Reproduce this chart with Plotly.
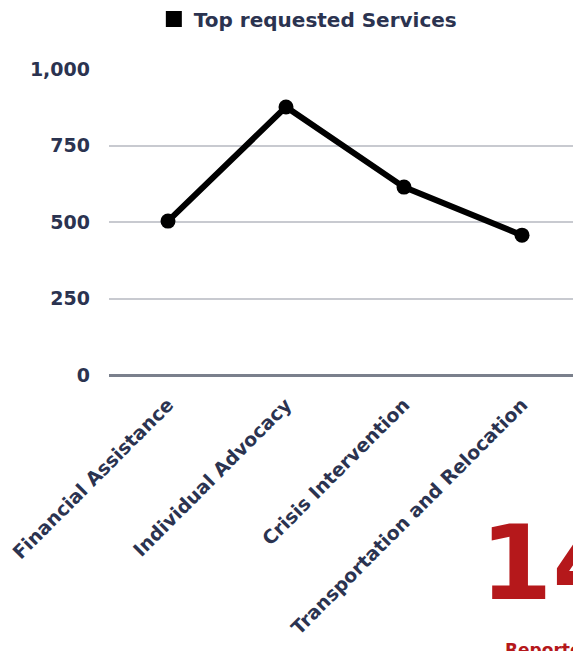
import plotly.graph_objects as go

categories = ["Financial Assistance", "Individual Advocacy", "Crisis Intervention", "Transportation and Relocation"]
values = [503, 876, 614, 457]
series_name = "Top requested Services"
y_ticks = [0, 250, 500, 750, 1000]
y_tick_labels = ["0", "250", "500", "750", "1,000"]

FONT = "DejaVu Sans"
NAVY = "#2b3350"
RED = "#b5181b"

# page body has an 8px margin, so figure coordinates = window coordinates - 8
W, H = 573, 643
L, T = 101, 61
PLOT_R = 573   # window 581 -> figure 573
PLOT_B = 367   # window 375 -> figure 367

fig = go.Figure()
fig.add_trace(go.Scatter(
    x=categories, y=values, mode="lines+markers",
    line=dict(color="#000000", width=6),
    marker=dict(color="#000000", size=15),
    showlegend=False,
))
fig.add_trace(go.Scatter(
    x=[None], y=[None], mode="markers", name=series_name,
    marker=dict(color="#000000", size=16, symbol="square"),
))

fig.update_layout(
    width=W, height=H,
    margin=dict(l=L, r=W - PLOT_R, t=T, b=H - PLOT_B, pad=0),
    paper_bgcolor="white", plot_bgcolor="white",
    font=dict(family=FONT, color=NAVY, size=15),
    legend=dict(orientation="h", x=0.095, xanchor="left", y=1 - 11 / H, yanchor="middle",
                yref="container", font=dict(family=FONT, size=20, color=NAVY, weight="bold"),
                itemsizing="trace"),
    xaxis=dict(range=[-0.5, 3.5], tickangle=-45, showgrid=False, zeroline=False,
               showline=False, ticks="", automargin=False, ticklabelstandoff=14,
               tickfont=dict(family=FONT, size=19, color=NAVY, weight="bold")),
    yaxis=dict(range=[0, 1000], tickvals=y_ticks, ticktext=y_tick_labels,
               showgrid=True, gridcolor="#c8cad0", gridwidth=2,
               zeroline=True, zerolinecolor="#7a808c", zerolinewidth=3,
               showline=False, ticks="", ticklabelstandoff=18, automargin=False,
               tickfont=dict(family=FONT, size=19, color=NAVY, weight="bold")),
)

fig.add_annotation(text="14", xref="paper", yref="paper", x=(478 - 8 - L) / (PLOT_R - L),
                   y=-(500 - 375) / 306, xanchor="left", yanchor="top", showarrow=False,
                   font=dict(family=FONT, size=104, color=RED, weight="bold"))
fig.add_annotation(text="Reported", xref="paper", yref="paper", x=(503 - 8 - L) / (PLOT_R - L),
                   y=-(638 - 375) / 306, xanchor="left", yanchor="top", showarrow=False,
                   font=dict(family=FONT, size=17, color=RED, weight="bold"))

fig.write_html("out.html")
